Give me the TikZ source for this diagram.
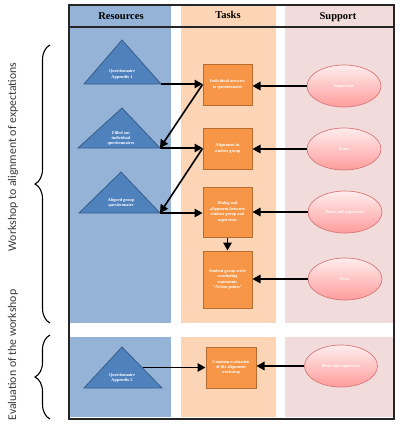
\documentclass[tikz,border=0pt]{standalone}
\usepackage{fontspec}
\setmainfont{Liberation Serif}
\newfontfamily\sidefont{Carlito}
\usetikzlibrary{arrows.meta,shapes.geometric,decorations.pathreplacing}
\definecolor{bandblue}{HTML}{95B3D7}
\definecolor{bandorange}{HTML}{FBD5B5}
\definecolor{bandpink}{HTML}{F2DCDB}
\definecolor{trifill}{HTML}{4F81BD}
\definecolor{tridraw}{HTML}{385D8A}
\definecolor{boxfill}{HTML}{F79646}
\definecolor{boxdraw}{HTML}{B66D31}
\definecolor{elltop}{HTML}{FFEDED}
\definecolor{ellbot}{HTML}{FF9C9C}
\definecolor{elldraw}{HTML}{D67878}
\definecolor{framecol}{HTML}{262626}
\definecolor{sidecol}{HTML}{3A3A3A}
\tikzset{
  band/.style={draw=none},
  tri/.style={fill=trifill,draw=tridraw,line width=0.8pt,line join=miter},
  tritext/.style={text=white,font=\fontsize{4.3}{5.4}\selectfont\bfseries,align=center,inner sep=0pt},
  taskbox/.style={rectangle,fill=boxfill,draw=boxdraw,line width=1pt,minimum width=49pt,
     text=white,font=\fontsize{4.3}{5.4}\selectfont\bfseries,align=center,inner sep=1pt},
  supp/.style={ellipse,top color=elltop,bottom color=ellbot,draw=elldraw,line width=0.7pt,
     minimum width=74pt,minimum height=42pt,text=white,font=\fontsize{4.3}{5.4}\selectfont\bfseries,inner sep=0pt},
  conn/.style={line width=1.6pt,-{Triangle[length=8pt,width=8.5pt]}},
  header/.style={font=\fontsize{10.5}{12}\selectfont\bfseries,text=black,inner sep=0pt},
  sidelabel/.style={rotate=90,font=\sidefont\fontsize{11.8}{13}\selectfont,text=sidecol,inner sep=0pt},
  bracestyle/.style={decorate,decoration={brace,amplitude=15pt},line width=1.1pt}
}
\begin{document}
\begin{tikzpicture}[x=1pt,y=-1pt]
\useasboundingbox (0,0) rectangle (400,424);
% header bands
\fill[bandblue] (70,5) rectangle (171,27);
\fill[bandorange] (181,5) rectangle (276,27);
\fill[bandpink] (285,5) rectangle (393,27);
% main bands
\fill[bandblue] (70,28) rectangle (171,323);
\fill[bandorange] (181,28) rectangle (276,323);
\fill[bandpink] (285,28) rectangle (393,323);
% bottom bands
\fill[bandblue] (70,337) rectangle (171,417);
\fill[bandorange] (181,337) rectangle (276,417);
\fill[bandpink] (285,337) rectangle (393,417);
% frame
\draw[framecol,line width=1.2pt] (69,5) rectangle (394,419);
\draw[framecol,line width=1.2pt] (69,27) -- (394,27);
% headers
\node[header] (hres) at (121,16) {Resources};
\node[header] (htask) at (228,15) {Tasks};
\node[header] (hsup) at (338,17) {Support};
% triangles
\draw[tri] (122,40) -- (161,84) -- (84,84) -- cycle;
\coordinate (t1r) at (161,84);
\node[tritext] (t1) at (122,74.5) {Questionnaire\\Appendix 1};
\draw[tri] (122,108) -- (160,148) -- (78,148) -- cycle;
\coordinate (t2r) at (160,148);
\node[tritext] (t2) at (121,138.5) {Filled out\\individual\\questionnaires};
\draw[tri] (121,172) -- (160,213) -- (79,213) -- cycle;
\coordinate (t3r) at (160,213);
\node[tritext] (t3) at (121,203) {Aligned group\\questionnaire};
\draw[tri] (122,347) -- (162,388) -- (84,388) -- cycle;
\coordinate (t4s) at (142.5,367.5);
\node[tritext] (t4) at (122,378) {Questionnaire\\Appendix 2};
% task boxes
\node[taskbox,minimum height=41pt] (b1) at (227.5,84.5) {Individual answers\\to questionnaire};
\node[taskbox,minimum height=41pt] (b2) at (227.5,148.5) {Alignment in\\student group};
\node[taskbox,minimum height=50pt] (b3) at (227.5,212) {Dialog and\\alignment between\\student group and\\supervisor};
\node[taskbox,minimum height=57pt] (b4) at (227.5,279.5) {Student group write\\concluding\\statements\\\textquotedblleft Action points\textquotedblright};
\node[taskbox,minimum height=41pt,minimum width=50pt] (b5) at (231,367.5) {Common evaluation\\of the alignment\\workshop};
% support ellipses
\node[supp] (e1) at (344,86) {Supervisor};
\node[supp] (e2) at (344,149) {Peers};
\node[supp] (e3) at (345,212) {Peers and supervisor};
\node[supp] (e4) at (345,279) {Peers};
\node[supp,minimum width=73pt] (e5) at (341,366) {Peers and supervisor};
% connectors
\draw[conn] (t1r) -- (t1r -| b1.west);
\draw[conn] (b1.west) -- (t2r);
\draw[conn] (t2r) -- (t2r -| b2.west);
\draw[conn] (b2.west) -- (t3r);
\draw[conn] (t3r) -- (t3r -| b3.west);
\draw[conn] (b3.south) -- (b4.north);
\draw[conn] (t4s) -- (b5.west);
\draw[conn] (e1.west) -- (e1.west -| b1.east);
\draw[conn] (e2.west) -- (e2.west -| b2.east);
\draw[conn] (e3.west) -- (e3.west -| b3.east);
\draw[conn] (e4.west) -- (e4.west -| b4.east);
\draw[conn] (e5.west) -- (e5.west -| b5.east);
% braces and side labels
\draw[bracestyle] (50,323) -- (50,45);
\draw[bracestyle] (50,419) -- (50,335);
\node[sidelabel] (l1) at (13,157) {Workshop to alignment of expectations};
\node[sidelabel] (l2) at (13,355) {Evaluation of the workshop};
\end{tikzpicture}
\end{document}
